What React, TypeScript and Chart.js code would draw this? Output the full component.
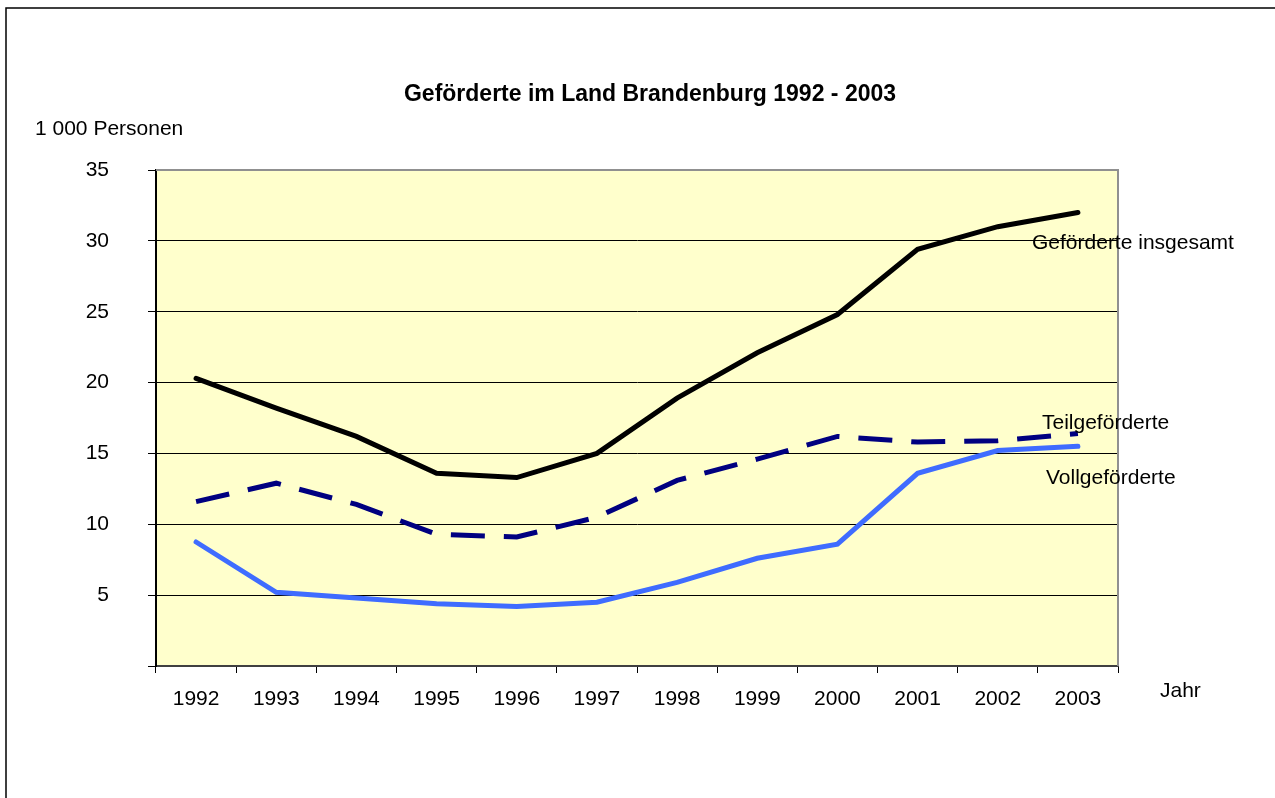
import React, { useEffect, useRef } from "react";
import { Chart, registerables } from "chart.js";

Chart.register(...registerables);

const years = ["1992", "1993", "1994", "1995", "1996", "1997", "1998", "1999", "2000", "2001", "2002", "2003"];
const insgesamt = [20.3, 18.2, 16.2, 13.6, 13.3, 15.0, 18.9, 22.1, 24.8, 29.4, 31.0, 32.0];
const teil = [11.6, 12.9, 11.4, 9.3, 9.1, 10.5, 13.1, 14.6, 16.2, 15.8, 15.9, 16.4];
const voll = [8.75, 5.2, 4.8, 4.4, 4.2, 4.5, 5.9, 7.6, 8.6, 13.6, 15.2, 15.5];
const yTicks = [0, 5, 10, 15, 20, 25, 30, 35];

const FONT = '"Liberation Sans", Arial, sans-serif';

const textPlugin = {
  id: "texts",
  beforeDraw(chart: any) {
    const { ctx, chartArea } = chart;
    ctx.save();
    ctx.fillStyle = "#FFFFCC";
    ctx.fillRect(chartArea.left, chartArea.top, chartArea.right - chartArea.left, chartArea.bottom - chartArea.top);
    ctx.restore();
  },
  afterDraw(chart: any) {
    const { ctx, chartArea } = chart;
    ctx.save();
    ctx.strokeStyle = "#909090";
    ctx.lineWidth = 2;
    ctx.beginPath();
    ctx.moveTo(chartArea.left, chartArea.top);
    ctx.lineTo(chartArea.right, chartArea.top);
    ctx.lineTo(chartArea.right, chartArea.bottom);
    ctx.stroke();
    ctx.strokeStyle = "#000";
    ctx.lineWidth = 1.5;
    ctx.strokeRect(6, 8, 1400, 1000);

    ctx.fillStyle = "#000";
    ctx.textBaseline = "middle";
    ctx.textAlign = "center";
    ctx.font = `bold 23px ${FONT}`;
    ctx.fillText("Geförderte im Land Brandenburg 1992 - 2003", 650, 95);
    ctx.textAlign = "left";
    ctx.font = `21px ${FONT}`;
    ctx.fillText("1 000 Personen", 35, 129);
    ctx.fillText("Jahr", 1160, 691);
    ctx.fillText("Geförderte insgesamt", 1032, 243);
    ctx.fillText("Teilgeförderte", 1042, 423);
    ctx.fillText("Vollgeförderte", 1046, 478);
    ctx.restore();
  },
};

export default function App() {
  const ref = useRef<HTMLCanvasElement | null>(null);
  useEffect(() => {
    if (!ref.current) return;
    const chart = new Chart(ref.current, {
      type: "line",
      data: {
        labels: years,
        datasets: [
          {
            label: "Geförderte insgesamt",
            data: insgesamt,
            borderColor: "#000000",
            borderWidth: 5,
            pointRadius: 0,
            tension: 0,
            borderCapStyle: "round",
          },
          {
            label: "Teilgeförderte",
            data: teil,
            borderColor: "#000080",
            borderWidth: 5,
            borderDash: [34, 19],
            pointRadius: 0,
            tension: 0,
          },
          {
            label: "Vollgeförderte",
            data: voll,
            borderColor: "#3F6CFF",
            borderWidth: 5,
            pointRadius: 0,
            tension: 0,
            borderCapStyle: "round",
          },
        ],
      },
      options: {
        animation: false,
        responsive: false,
        maintainAspectRatio: false,
        layout: { padding: { left: 40, top: 170, right: 157, bottom: 0 } },
        plugins: { legend: { display: false }, tooltip: { enabled: false }, title: { display: false } },
        scales: {
          x: {
            type: "category",
            offset: true,
            grid: {
              offset: true,
              drawOnChartArea: false,
              drawTicks: true,
              tickLength: 7,
              tickColor: "#000",
              tickWidth: 1,
            },
            border: { display: true, color: "#404040", width: 2 },
            ticks: { color: "#000", font: { family: FONT, size: 21 }, padding: 14, maxRotation: 0, autoSkip: false },
            afterFit(scale: any) {
              scale.height = 132;
            },
          },
          y: {
            min: 0,
            max: 35,
            afterBuildTicks(scale: any) {
              scale.ticks = yTicks.map((v) => ({ value: v }));
            },
            grid: {
              color: (c: any) => (c.tick && (c.tick.value === 0 || c.tick.value === 35) ? "rgba(0,0,0,0)" : "#000"),
              lineWidth: 1,
              drawTicks: true,
              tickLength: 8,
              tickColor: "#000",
            },
            border: { display: true, color: "#000", width: 2 },
            ticks: {
              color: "#000",
              font: { family: FONT, size: 21 },
              padding: 39,
              callback: (v: any) => (v === 0 ? "" : String(v)),
            },
            afterFit(scale: any) {
              scale.width = 116;
            },
          },
        },
      },
      plugins: [textPlugin],
    });
    return () => chart.destroy();
  }, []);
  return (
    <div style={{ position: "absolute", left: 0, top: 0, width: 1275, height: 798, background: "#fff" }}>
      <canvas ref={ref} width={1275} height={798} style={{ width: 1275, height: 798, display: "block" }} />
    </div>
  );
}
